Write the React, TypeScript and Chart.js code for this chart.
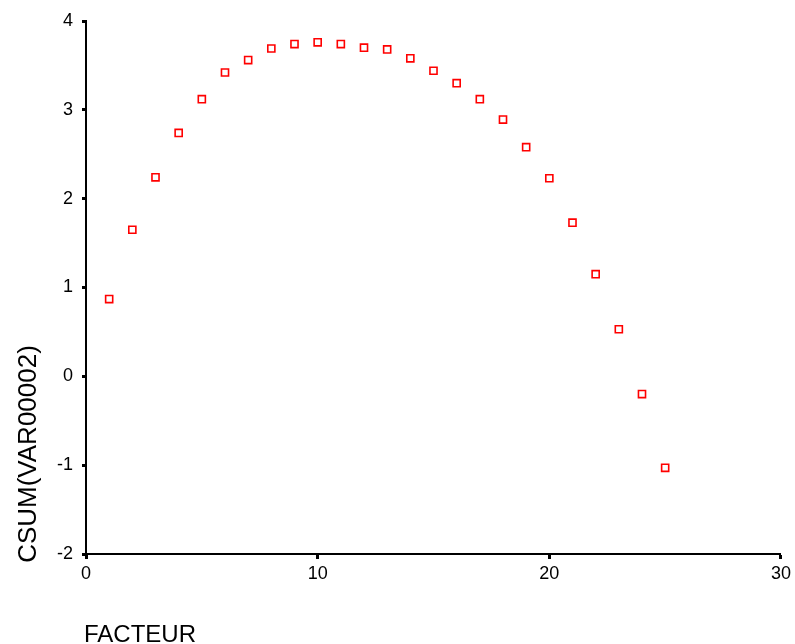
import { useEffect, useRef } from "react";
import { Chart, registerables } from "chart.js";

Chart.register(...registerables);

const facteur = [1, 2, 3, 4, 5, 6, 7, 8, 9, 10, 11, 12, 13, 14, 15, 16, 17, 18, 19, 20, 21, 22, 23, 24, 25];
const csum = [0.87, 1.65, 2.24, 2.74, 3.12, 3.42, 3.56, 3.69, 3.74, 3.76, 3.74, 3.70, 3.68, 3.58, 3.44, 3.30, 3.12, 2.89, 2.58, 2.23, 1.73, 1.15, 0.53, -0.20, -1.03];
const xTicks = [0, 10, 20, 30];
const yTicks = [-2, -1, 0, 1, 2, 3, 4];
const xTitle = "FACTEUR";
const yTitle = "CSUM(VAR00002)";

const FONT = '"Liberation Sans", Arial, sans-serif';

const titlesPlugin = {
  id: "titles",
  afterDraw(chart: any) {
    const ctx = chart.ctx as CanvasRenderingContext2D;
    ctx.save();
    ctx.fillStyle = "#000";
    ctx.font = `24px ${FONT}`;
    ctx.textAlign = "left";
    ctx.textBaseline = "alphabetic";
    ctx.fillText(xTitle, 84, 642);
    ctx.font = `26px ${FONT}`;
    ctx.translate(36, 454);
    ctx.rotate(-Math.PI / 2);
    ctx.textAlign = "center";
    ctx.fillText(yTitle, 0, 0);
    ctx.restore();
  },
};

export default function App() {
  const ref = useRef<HTMLCanvasElement>(null);
  useEffect(() => {
    if (!ref.current) return;
    const chart = new Chart(ref.current, {
      type: "scatter",
      data: {
        datasets: [
          {
            data: facteur.map((x, i) => ({ x, y: csum[i] })),
            pointStyle: "rect",
            pointRadius: 5,
            pointHoverRadius: 5,
            borderColor: "#ff0000",
            backgroundColor: "#ffffff",
            borderWidth: 1.6,
          },
        ],
      },
      options: {
        animation: false,
        responsive: false,
        devicePixelRatio: 1,
        layout: { padding: { left: 0, top: 21, right: 13, bottom: 0 } },
        plugins: { legend: { display: false }, tooltip: { enabled: false } },
        scales: {
          x: {
            type: "linear",
            min: 0,
            max: 30,
            afterBuildTicks: (s: any) => {
              s.ticks = xTicks.map((v) => ({ value: v }));
            },
            afterFit: (s: any) => {
              s.height = 90;
            },
            grid: { drawOnChartArea: false, drawTicks: true, tickLength: 5, tickWidth: 3, tickColor: "#000" },
            border: { display: true, color: "#000", width: 2 },
            ticks: { color: "#000", font: { family: FONT, size: 18 }, padding: 4, maxRotation: 0 },
          },
          y: {
            type: "linear",
            min: -2,
            max: 4,
            afterBuildTicks: (s: any) => {
              s.ticks = yTicks.map((v) => ({ value: v }));
            },
            afterFit: (s: any) => {
              s.width = 86;
            },
            grid: { drawOnChartArea: false, drawTicks: true, tickLength: 4, tickWidth: 3, tickColor: "#000" },
            border: { display: true, color: "#000", width: 2 },
            ticks: { color: "#000", font: { family: FONT, size: 18 }, padding: 9 },
          },
        },
      },
      plugins: [titlesPlugin],
    });
    return () => chart.destroy();
  }, []);
  return (
    <div style={{ position: "fixed", left: 0, top: 0, width: 795, height: 644, background: "#fff" }}>
      <canvas ref={ref} width={795} height={644} style={{ width: 795, height: 644, display: "block" }} />
    </div>
  );
}
